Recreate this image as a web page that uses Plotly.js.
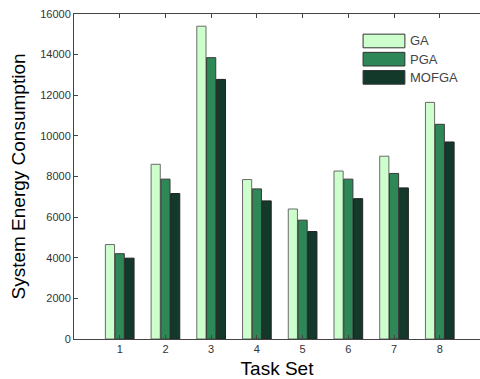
<!DOCTYPE html>
<html>
<head>
<meta charset="utf-8">
<script src="https://cdn.plot.ly/plotly-3.0.1.min.js"></script>
<style>html,body{margin:0;padding:0;background:#fff;}#chart{width:480px;height:379px;}</style>
</head>
<body>
<div id="chart"></div>
<script>
var taskSets = [1, 2, 3, 4, 5, 6, 7, 8];
var seriesNames = ["GA", "PGA", "MOFGA"];
var gaValues = [4650, 8600, 15400, 7850, 6400, 8270, 9000, 11650];
var pgaValues = [4200, 7870, 13850, 7390, 5850, 7870, 8150, 10570];
var mofgaValues = [3980, 7160, 12780, 6800, 5290, 6910, 7440, 9700];
var yTicks = [0, 2000, 4000, 6000, 8000, 10000, 12000, 14000, 16000];

var colors = ["#ccffcc", "#2e8757", "#12392a"];
var edges = ["#6a6a6a", "#3a3a3a", "#222222"];
var allValues = [gaValues, pgaValues, mofgaValues];

var traces = allValues.map(function (vals, i) {
  return {
    type: "bar",
    x: taskSets,
    y: vals,
    name: seriesNames[i],
    marker: {color: colors[i], line: {color: edges[i], width: 1}},
    showlegend: false
  };
});

var shapes = [];
var annotations = [];
seriesNames.forEach(function (n, i) {
  var top = 0.938 - i * 0.056;
  shapes.push({
    type: "rect", xref: "paper", yref: "paper",
    x0: 0.712, x1: 0.815, y0: top - 0.042, y1: top,
    fillcolor: colors[i], line: {color: "#333", width: 1}
  });
  annotations.push({
    xref: "paper", yref: "paper", x: 0.823, y: top - 0.021,
    xanchor: "left", yanchor: "middle", showarrow: false,
    text: n, font: {family: "Liberation Sans, Arial, sans-serif", size: 13, color: "#444"}
  });
});

var layout = {
  width: 480, height: 379,
  margin: {l: 74, r: 0, t: 14, b: 40},
  paper_bgcolor: "#fff", plot_bgcolor: "#fff",
  barmode: "group", bargap: 0.36, bargroupgap: 0.06,
  font: {family: "Liberation Sans, Arial, sans-serif", color: "#333"},
  xaxis: {
    range: [0, 8.88], tickvals: taskSets, ticktext: taskSets.map(String),
    showline: true, linecolor: "#444", linewidth: 1, mirror: "ticks",
    ticks: "inside", ticklen: 4, tickcolor: "#444",
    showgrid: false, zeroline: false,
    tickfont: {size: 11, color: "#333"},
    title: {text: "Task Set", font: {size: 19, color: "#000"}, standoff: 7}
  },
  yaxis: {
    range: [0, 16000], tickvals: yTicks, ticktext: yTicks.map(String),
    showline: true, linecolor: "#444", linewidth: 1,
    ticks: "inside", ticklen: 4, tickcolor: "#444",
    showgrid: false, zeroline: false,
    tickfont: {size: 11, color: "#333"},
    title: {text: "System Energy Consumption", font: {size: 19, color: "#000"}, standoff: 9}
  },
  shapes: shapes,
  annotations: annotations
};

Plotly.newPlot("chart", traces, layout, {displayModeBar: false, staticPlot: true});
</script>
</body>
</html>
